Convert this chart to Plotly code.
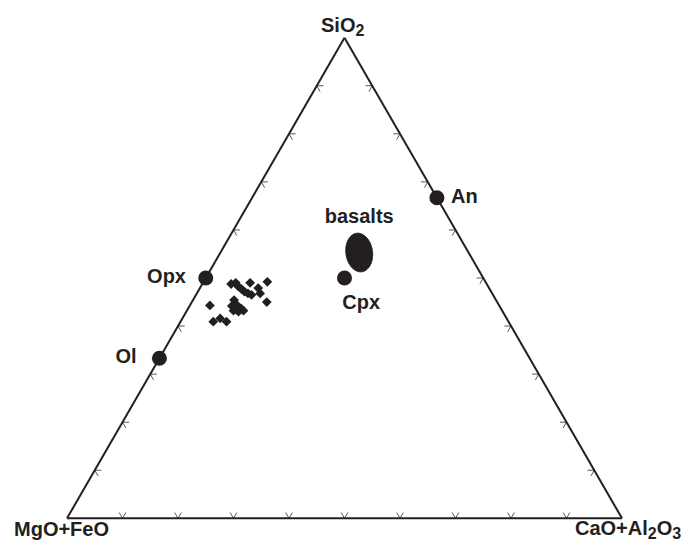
import numpy as np
import plotly.graph_objects as go

# Ternary end-members: SiO2 (top), MgO+FeO (left), CaO+Al2O3 (right), in %
mineral_names = ["Opx", "Ol", "An", "Cpx"]
mineral_sio2 = [50.0, 33.3, 66.7, 50.0]
mineral_mgfe = [50.0, 66.7, 0.0, 25.0]
mineral_caal = [0.0, 0.0, 33.3, 25.0]

# Sample compositions (diamonds)
sample_sio2 = [48.8, 49.0, 48.2, 47.7, 47.2, 46.8, 46.5, 49.0, 47.9, 46.8, 49.2, 45.0,
               45.4, 44.2, 44.4, 43.7, 43.0, 43.2, 44.3, 40.9, 41.6, 40.9, 43.2]
sample_mgfe = [46.1, 45.1, 45.0, 44.7, 44.5, 44.0, 43.5, 42.5, 41.6, 41.8, 39.3, 41.5,
               47.2, 48.2, 47.2, 46.8, 47.6, 48.4, 52.1, 53.2, 51.6, 50.8, 46.6]
sample_caal = [5.2, 5.9, 6.8, 7.6, 8.4, 9.2, 10.0, 8.5, 10.5, 11.4, 11.5, 13.5,
               7.4, 7.6, 8.4, 9.5, 9.4, 8.4, 3.6, 5.9, 6.8, 8.3, 10.2]

# Basalt field: centre (SiO2, MgO+FeO, CaO+Al2O3), semi-axes (% of edge) and tilt (deg)
basalt_center = [55.3, 19.7, 25.0]
basalt_semi_axes = [2.4, 3.5]
basalt_tilt = 8.0

tick_values = [10, 20, 30, 40, 50, 60, 70, 80, 90]

INK = "#231f20"
FONT = "Liberation Sans, Arial, Helvetica, sans-serif"
H = np.sqrt(3) / 2


def to_ternary(x, y):
    """Cartesian point in a unit-edge triangle -> (a, b, c) in %."""
    a = y / H
    c = x - a / 2
    b = 1 - a - c
    return a * 100, b * 100, c * 100


def to_cart(a, b, c):
    a, c = a / 100, c / 100
    return c + a / 2, a * H


# basalt outline
cx, cy = to_cart(*basalt_center)
th = np.linspace(0, 2 * np.pi, 121)
rot = np.radians(basalt_tilt)
ex = basalt_semi_axes[0] / 100 * np.cos(th)
ey = basalt_semi_axes[1] / 100 * np.sin(th)
bx = cx + ex * np.cos(rot) - ey * np.sin(rot)
by = cy + ex * np.sin(rot) + ey * np.cos(rot)
ba, bb, bc = to_ternary(bx, by)

# chevron tick marks on each edge, arms parallel to the other two edges
d = 1.2
ta, tb, tc = [], [], []
for t in tick_values:
    # bottom edge (SiO2 = 0)
    for p in [(d, 100 - t - d, t), (0, 100 - t, t), (d, 100 - t, t - d), (None,) * 3]:
        ta.append(p[0]); tb.append(p[1]); tc.append(p[2])
    # left edge (CaO+Al2O3 = 0)
    for p in [(t, 100 - t - d, d), (t, 100 - t, 0), (t - d, 100 - t, d), (None,) * 3]:
        ta.append(p[0]); tb.append(p[1]); tc.append(p[2])
    # right edge (MgO+FeO = 0)
    for p in [(t, d, 100 - t - d), (t, 0, 100 - t), (t - d, d, 100 - t), (None,) * 3]:
        ta.append(p[0]); tb.append(p[1]); tc.append(p[2])

label_font = dict(family=FONT, size=20, color=INK, weight="bold")

fig = go.Figure()

fig.add_trace(go.Scatterternary(
    a=ta, b=tb, c=tc, mode="lines",
    line=dict(color="#555555", width=1), hoverinfo="skip", showlegend=False,
))

fig.add_trace(go.Scatterternary(
    a=list(ba), b=list(bb), c=list(bc), mode="lines", fill="toself",
    fillcolor=INK, line=dict(color=INK, width=1), showlegend=False,
))

fig.add_trace(go.Scatterternary(
    a=[basalt_center[0]], b=[basalt_center[1]], c=[basalt_center[2]],
    mode="markers+text", text=["basalts"], textposition="top center",
    marker=dict(size=38, opacity=0), textfont=label_font, showlegend=False,
    cliponaxis=False,
))

fig.add_trace(go.Scatterternary(
    a=sample_sio2, b=sample_mgfe, c=sample_caal, mode="markers",
    marker=dict(symbol="diamond", size=7.5, color=INK), showlegend=False,
))

fig.add_trace(go.Scatterternary(
    a=mineral_sio2, b=mineral_mgfe, c=mineral_caal, mode="markers",
    marker=dict(size=15, color=INK), showlegend=False, cliponaxis=False,
))

# mineral labels: an invisible marker of a given size sets the gap to the text
label_style = {
    "Opx": ("middle left", 30, "Opx"),
    "Ol": ("middle left", 35, "Ol"),
    "An": ("middle right", 21, "An"),
    "Cpx": ("bottom center", 24, "\u00a0" * 6 + "Cpx"),
}
for name, a, b, c in zip(mineral_names, mineral_sio2, mineral_mgfe, mineral_caal):
    pos, gap, txt = label_style[name]
    fig.add_trace(go.Scatterternary(
        a=[a], b=[b], c=[c], mode="markers+text",
        text=[txt], textposition=pos, textfont=label_font,
        marker=dict(size=gap, opacity=0), showlegend=False, cliponaxis=False,
    ))

axis_common = dict(
    showgrid=False, showticklabels=False, ticks="", showline=True,
    linecolor=INK, linewidth=2, min=0, title=dict(text=""),
)

sub = lambda s: "<sub><span style='font-size:16px'>%s</span></sub>" % s
vertex_labels = [
    ("SiO" + sub("2"), 0.4955, 1.0228),
    ("MgO+FeO", -0.0108, -0.0215),
    ("CaO+Al" + sub("2") + "O" + sub("3"), 1.0117, -0.0215),
]
annotations = [
    dict(text=t, x=x, y=y, xref="paper", yref="paper", showarrow=False,
         xanchor="center", yanchor="middle",
         font=dict(family=FONT, size=20, color=INK, weight="bold"))
    for t, x, y in vertex_labels
]

fig.update_layout(
    width=699, height=543,
    margin=dict(l=67, r=77, t=37, b=24),
    paper_bgcolor="white",
    annotations=annotations,
    ternary=dict(
        sum=100,
        bgcolor="white",
        aaxis=axis_common,
        baxis=axis_common,
        caxis=axis_common,
    ),
)

fig.write_html("out.html")
